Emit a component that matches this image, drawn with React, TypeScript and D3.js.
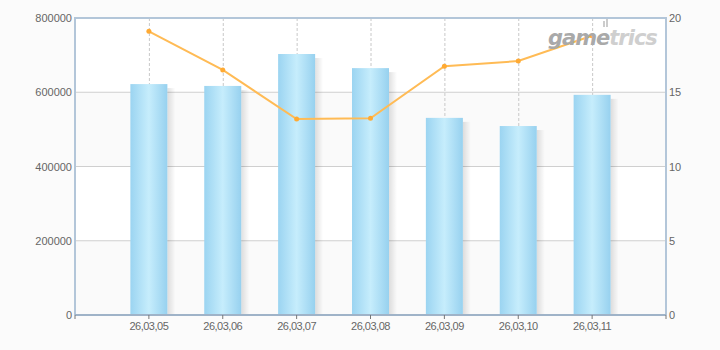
import React from "react";
import * as d3 from "d3";

const categories = ["26,03,05", "26,03,06", "26,03,07", "26,03,08", "26,03,09", "26,03,10", "26,03,11"];
const barValues = [622000, 617000, 703000, 665000, 531000, 509000, 593000];
const lineValues = [19.1, 16.5, 13.2, 13.25, 16.75, 17.1, 18.8];
const leftTicks = [0, 200000, 400000, 600000, 800000];
const rightTicks = [0, 5, 10, 15, 20];

const W = 720, H = 350;
const M = { left: 75, right: 666, top: 18, bottom: 315 };

export default function App() {
  const x = d3.scaleLinear().domain([0, categories.length + 1]).range([M.left, M.right]);
  const cx = (i: number) => x(i + 1);
  const yL = d3.scaleLinear().domain([0, 800000]).range([M.bottom, M.top]);
  const yR = d3.scaleLinear().domain([0, 20]).range([M.bottom, M.top]);
  const bw = 37;
  const line = d3.line<number>().x((_, i) => cx(i)).y((d) => yR(d));
  const font = "Liberation Sans, Arial, sans-serif";

  return (
    <svg width={W} height={H} style={{ position: "absolute", left: 0, top: 0 }} fontFamily={font}>
      <defs>
        <linearGradient id="barg" x1="0" x2="1" y1="0" y2="0">
          <stop offset="0" stopColor="#9bd4f1" />
          <stop offset="0.5" stopColor="#c6edfc" />
          <stop offset="1" stopColor="#97d1ef" />
        </linearGradient>
        <linearGradient id="shad" x1="0" x2="1" y1="0" y2="0">
          <stop offset="0" stopColor="#000" stopOpacity="0.12" />
          <stop offset="1" stopColor="#000" stopOpacity="0" />
        </linearGradient>
      </defs>
      <rect width={W} height={H} fill="#fbfbfb" />
      <rect x={M.left} y={M.top} width={M.right - M.left} height={M.bottom - M.top} fill="#ffffff" />
      {[0, 2].map((i) => (
        <rect key={"gb" + i} x={M.left} y={yL(leftTicks[i + 1])} width={M.right - M.left}
          height={yL(leftTicks[i]) - yL(leftTicks[i + 1])} fill="#fafafa" />
      ))}
      {leftTicks.slice(1, -1).map((t) => (
        <line key={"g" + t} x1={M.left} x2={M.right} y1={yL(t)} y2={yL(t)} stroke="#cfcfcf" strokeWidth={1} />
      ))}
      {categories.map((c, i) => (
        <line key={"v" + c} x1={cx(i) + 0.5} x2={cx(i) + 0.5} y1={M.top} y2={M.bottom}
          stroke="#c8c8c8" strokeDasharray="3,2" />
      ))}
      {barValues.map((v, i) => (
        <g key={"b" + i}>
          <rect x={cx(i) + bw / 2} y={yL(v) + 4} width={8} height={M.bottom - yL(v) - 4} fill="url(#shad)" />
          <rect x={cx(i) - bw / 2} y={yL(v)} width={bw} height={M.bottom - yL(v)} fill="url(#barg)" />
        </g>
      ))}
      <path d={line(lineValues) || ""} fill="none" stroke="#ffbb55" strokeWidth={2} />
      {lineValues.map((v, i) => (
        <circle key={"p" + i} cx={cx(i)} cy={yR(v)} r={2.5} fill="#ffaa33" />
      ))}
      {/* logo */}
      <g transform="translate(548,45)" fontStyle="italic" fontWeight="bold" fontSize={21} fontFamily="Verdana, DejaVu Sans, sans-serif" letterSpacing={-1}>
        <text x={0} y={0} fill="#a9a9a9">game<tspan fill="#cfcfcf">trics</tspan></text>
        <rect x={55} y={-24} width={2} height={6} fill="#cccccc" />
        <rect x={58} y={-26} width={2} height={8} fill="#cccccc" />
      </g>
      {/* frame */}
      <path d={`M${M.left},${M.bottom} V${M.top} H${M.right} V${M.bottom}`} fill="none" stroke="#b3c6d9" strokeWidth={2} />
      <line x1={M.left} x2={M.right} y1={M.bottom} y2={M.bottom} stroke="#9fb3c8" strokeWidth={2} />
      {categories.map((c, i) => (
        <g key={"xt" + c}>
          <line x1={cx(i)} x2={cx(i)} y1={M.bottom} y2={M.bottom + 4} stroke="#777" />
          <text x={cx(i)} y={M.bottom + 15} textAnchor="middle" fontSize={11} fill="#666" letterSpacing={-0.5}>{c}</text>
        </g>
      ))}
      <line x1={M.left} x2={M.left} y1={M.bottom} y2={M.bottom + 4} stroke="#777" />
      <line x1={M.right} x2={M.right} y1={M.bottom} y2={M.bottom + 4} stroke="#777" />
      {leftTicks.map((t) => (
        <text key={"l" + t} x={M.left - 3} y={yL(t) + 4} textAnchor="end" fontSize={11} fill="#666">{t}</text>
      ))}
      {rightTicks.map((t) => (
        <text key={"r" + t} x={M.right + 3} y={yR(t) + 4} textAnchor="start" fontSize={11} fill="#666">{t}</text>
      ))}
    </svg>
  );
}
